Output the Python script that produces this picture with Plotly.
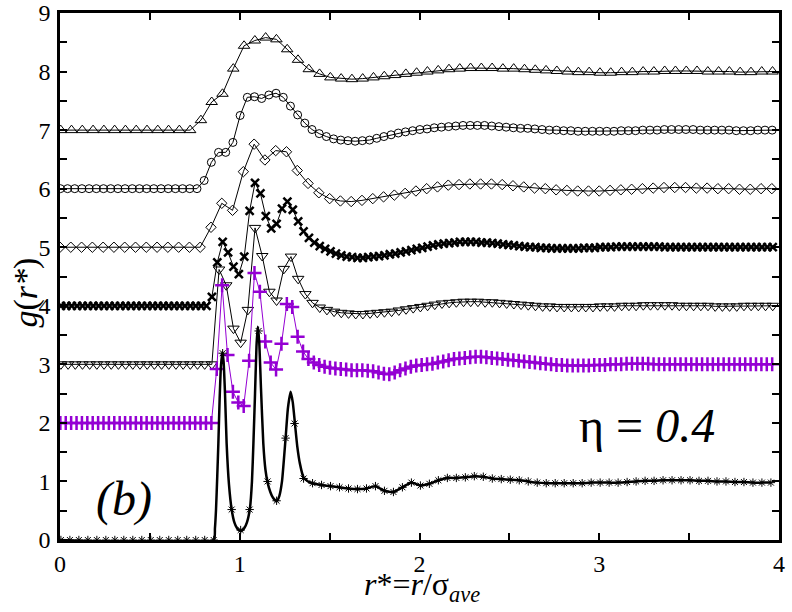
import plotly.graph_objects as go

# g(r*) curves, each shifted up by an integer offset; r grids are bin centres
# up-triangles (offset 7), bin width 0.06
r0_tri_up, dr_tri_up = 0.004, 0.06
g_tri_up = [7.0] * 13 + [
    7.17, 7.48, 7.62, 8.05, 8.44, 8.53, 8.58, 8.55, 8.38, 8.20,
    8.04, 7.96, 7.90, 7.88, 7.87, 7.88, 7.90, 7.92, 7.94,
    7.96, 7.98, 8.00, 8.02, 8.04, 8.05, 8.06, 8.06, 8.06, 8.05,
    8.05, 8.04, 8.03, 8.02, 8.01, 8.00, 7.99, 7.99, 7.98, 7.98,
    7.99, 7.99, 8.00, 8.00, 8.01, 8.01, 8.01, 8.01, 8.00, 8.00,
    8.00, 7.99, 7.99, 8.00, 8.00]

# circles (offset 6), bin width 0.04
r0_circ, dr_circ = 0.002, 0.04
g_circ = [6.0] * 20 + [
    6.14, 6.45, 6.62, 6.62, 6.79, 7.25, 7.56, 7.57, 7.54, 7.60,
    7.63, 7.56, 7.41, 7.26, 7.12, 7.01, 6.94, 6.89, 6.85, 6.83,
    6.82, 6.81, 6.82, 6.83, 6.86, 6.89, 6.92, 6.95,
    6.97, 6.99, 7.01, 7.02, 7.04, 7.05, 7.06, 7.07, 7.08, 7.08,
    7.08, 7.08, 7.07, 7.06, 7.05, 7.04, 7.03, 7.03, 7.02, 7.01,
    7.00, 7.00, 6.99, 6.99, 6.98, 6.98, 6.98, 6.98, 6.98, 6.98,
    6.99, 6.99, 6.99, 7.00, 7.00, 7.00, 7.01, 7.01, 7.01, 7.01,
    7.01, 7.00, 7.00, 7.00, 7.00, 7.00, 6.99, 6.99, 6.99, 7.00,
    7.00, 7.00]

# diamonds (offset 5), bin width 0.06
r0_diam, dr_diam = 0.0, 0.06
g_diam = [5.0] * 14 + [
    5.34, 5.75, 5.63, 6.29, 6.76, 6.49, 6.65, 6.63, 6.31, 6.09,
    5.93, 5.83, 5.79, 5.78, 5.80, 5.83, 5.86, 5.89,
    5.92, 5.96, 6.00, 6.03, 6.06, 6.07, 6.08, 6.08, 6.08, 6.07,
    6.05, 6.03, 6.01, 6.00, 5.98, 5.97, 5.96, 5.96, 5.96, 5.97,
    5.98, 5.99, 6.00, 6.01, 6.02, 6.02, 6.02, 6.01, 6.01, 6.00,
    6.00, 5.99, 5.99, 6.00, 6.00]

# crosses (offset 4), bin width 0.03
r0_x, dr_x = 0.005, 0.03
g_x = [4.0] * 28 + [
    4.15, 4.74, 5.09, 4.91, 4.67, 4.54, 4.84, 5.62, 6.10, 5.92,
    5.53, 5.32, 5.40, 5.66, 5.78, 5.64, 5.44, 5.27, 5.16, 5.08,
    5.02, 4.97, 4.93, 4.89, 4.86, 4.84, 4.83, 4.82, 4.82, 4.83,
    4.84, 4.85, 4.86, 4.88, 4.89, 4.91, 4.93, 4.95, 4.97, 4.99,
    5.01, 5.03, 5.05, 5.06, 5.07, 5.08, 5.09, 5.09, 5.09, 5.09,
    5.08, 5.08, 5.07, 5.06, 5.05, 5.04, 5.03, 5.02, 5.01, 5.00,
    5.00, 4.99, 4.99, 4.98, 4.98, 4.98, 4.98, 4.98, 4.98, 4.99,
    4.99, 4.99, 5.00, 5.00, 5.00, 5.01, 5.01, 5.01, 5.01, 5.01,
    5.01, 5.01, 5.01, 5.01, 5.00, 5.00, 5.00, 5.00, 5.00, 5.00] + [5.0] * 15

# down-triangles (offset 3), bin width 0.04
r0_tri_dn, dr_tri_dn = 0.005, 0.04
g_tri_dn = [3.0] * 22 + [
    4.62, 4.35, 3.61, 3.37, 3.93, 5.33, 4.85, 4.24, 4.09, 4.63,
    4.84, 4.46, 4.20, 4.05, 3.97, 3.93, 3.90, 3.88, 3.87, 3.86,
    3.86, 3.87, 3.88, 3.89, 3.90, 3.92, 3.94, 3.96, 3.98, 4.00,
    4.02, 4.04, 4.05, 4.06, 4.07, 4.07, 4.07, 4.06, 4.06, 4.05,
    4.04, 4.03, 4.02, 4.01, 4.00, 3.99, 3.99, 3.98, 3.98, 3.98,
    3.98, 3.98, 3.98, 3.99, 3.99, 3.99, 4.00, 4.00, 4.00, 4.01,
    4.01, 4.01, 4.01, 4.01, 4.00, 4.00, 4.00, 4.00, 4.00, 3.99,
    3.99, 3.99, 3.99, 4.00, 4.00, 4.00, 4.00, 4.00]

# plus signs, violet (offset 2), bin width 0.03
r0_plus, dr_plus = 0.002, 0.03
g_plus = [2.0] * 29 + [
    2.92, 4.35, 3.16, 2.53, 2.35, 2.29, 3.06, 4.56, 4.24, 3.39,
    3.03, 2.91, 3.35, 4.03, 3.98, 3.47, 3.22, 3.09, 3.03, 2.99,
    2.96, 2.94, 2.93, 2.92, 2.91, 2.90, 2.90, 2.90, 2.89, 2.88,
    2.86, 2.84, 2.83, 2.86, 2.90, 2.93, 2.96, 2.98, 2.99, 3.00,
    3.01, 3.03, 3.05, 3.07, 3.09, 3.10, 3.11, 3.12, 3.13, 3.13,
    3.12, 3.11, 3.10, 3.09, 3.08, 3.07, 3.06, 3.05, 3.04, 3.03,
    3.02, 3.01, 3.00, 2.99, 2.99, 2.98, 2.98, 2.98, 2.98, 2.98,
    2.99, 2.99, 2.99, 3.00, 3.00, 3.00, 3.01, 3.01, 3.01, 3.01,
    3.01, 3.00, 3.00, 3.00, 3.00, 3.00, 3.00, 3.00, 3.00, 3.00] + [3.0] * 14

# asterisks (offset 0), bin width 0.05
r0_ast, dr_ast = 0.005, 0.05
g_ast = [0.0] * 18 + [
    3.19, 0.52, 0.17, 0.52, 3.57, 1.00, 0.67, 1.74, 1.99, 1.05,
    0.97, 0.94, 0.92, 0.90, 0.88, 0.87, 0.88, 0.92, 0.84, 0.82,
    0.90, 0.98, 0.93, 0.96, 1.02, 1.06, 1.06, 1.07, 1.09, 1.08,
    1.05, 1.04, 1.03, 1.02, 1.00, 0.98, 0.97, 0.97, 0.97, 0.97,
    0.97, 0.98, 0.98, 0.98, 0.98, 0.99, 1.00, 1.01, 1.01, 1.02,
    1.02, 1.02, 1.02, 1.01, 1.01, 1.00, 1.00, 0.99, 0.99, 0.98,
    0.98, 0.98]

# finer curve through the first three peaks (offset 0)
r_fine = [0.0, 0.855, 0.862, 0.868, 0.875, 0.881, 0.888, 0.895, 0.903, 0.910,
          0.918, 0.927, 0.940, 0.955, 0.970, 0.985, 1.005, 1.025, 1.040, 1.057,
          1.068, 1.076, 1.085, 1.093, 1.100, 1.108, 1.118, 1.131, 1.143, 1.155,
          1.170, 1.185, 1.205, 1.220, 1.235, 1.255, 1.268, 1.283, 1.295, 1.307,
          1.320, 1.335, 1.355, 1.380, 1.405]
g_fine = [0.0, 0.0, 0.20, 0.52, 1.10, 1.65, 2.40, 2.95, 3.20, 3.05,
          2.50, 1.65, 0.95, 0.52, 0.30, 0.20, 0.15, 0.20, 0.30, 0.55,
          1.00, 1.65, 2.50, 3.30, 3.64, 3.40, 2.60, 1.65, 1.20, 0.98,
          0.82, 0.72, 0.66, 0.75, 1.00, 1.74, 2.25, 2.53, 2.35, 1.99,
          1.60, 1.30, 1.07, 1.00, 0.97]

x_ticks = [0, 1, 2, 3, 4]
y_ticks = [0, 1, 2, 3, 4, 5, 6, 7, 8, 9]

VIOLET = "#9400D3"
SERIF = "Liberation Serif"


def bins(r0, dr, g):
    return [round(r0 + dr * i, 4) for i in range(len(g))]


fig = go.Figure()

series = [
    (r0_tri_up, dr_tri_up, g_tri_up, "triangle-up-open", 10, 1, "black"),
    (r0_circ, dr_circ, g_circ, "circle-open", 8, 1, "black"),
    (r0_diam, dr_diam, g_diam, "diamond-open", 8, 1, "black"),
    (r0_x, dr_x, g_x, "x-thin-open", 8, 2.5, "black"),
    (r0_tri_dn, dr_tri_dn, g_tri_dn, "triangle-down-open", 10, 1, "black"),
    (r0_plus, dr_plus, g_plus, "cross-thin-open", 10, 2.5, VIOLET),
]
for r0, dr, g, sym, size, mlw, col in series:
    fig.add_trace(go.Scatter(
        x=bins(r0, dr, g), y=g, mode="lines+markers",
        line=dict(color=col, width=1),
        marker=dict(symbol=sym, size=size, color=col, line=dict(color=col, width=mlw)),
        showlegend=False, hoverinfo="skip"))

# bottom curve: fine line + asterisk points
r_ast = bins(r0_ast, dr_ast, g_ast)
tail = [(r, g) for r, g in zip(r_ast, g_ast) if r > r_fine[-1] + 0.01]
fig.add_trace(go.Scatter(
    x=r_fine + [t[0] for t in tail], y=g_fine + [t[1] for t in tail],
    mode="lines", line=dict(color="black", width=2.5, shape="spline", smoothing=0.5),
    showlegend=False, hoverinfo="skip"))
fig.add_trace(go.Scatter(
    x=r_ast, y=g_ast, mode="markers",
    marker=dict(symbol="asterisk-open", size=7, color="black", line=dict(color="black", width=1)),
    showlegend=False, hoverinfo="skip"))

axis_common = dict(
    showline=True, linecolor="black", linewidth=2.5, mirror="ticks",
    ticks="inside", ticklen=7, tickwidth=1.5, tickcolor="black",
    showgrid=False, zeroline=False, automargin=False,
    tickfont=dict(family=SERIF, size=24, color="black"),
)
minor_ticks = dict(dtick=0.5, ticks="inside", ticklen=7, tickwidth=1.5, tickcolor="black")
fig.update_xaxes(range=[0, 4], tickvals=x_ticks, minor=minor_ticks, **axis_common)
fig.update_yaxes(range=[0, 9], tickvals=y_ticks, minor=minor_ticks,
                 ticklabelstandoff=2, **axis_common)

fig.add_annotation(text="<i>g</i>(<i>r*</i>)", xref="paper", yref="paper",
                   x=-0.047, y=0.47, xanchor="center", yanchor="middle",
                   textangle=-90, showarrow=False,
                   font=dict(family=SERIF, size=34, color="black"))
fig.add_annotation(text="<i>r</i>*=<i>r</i>/σ<sub><i>ave</i></sub>", xref="paper", yref="paper",
                   x=0.503, y=-0.045, xanchor="center", yanchor="top", showarrow=False,
                   font=dict(family=SERIF, size=32, color="black"))
fig.add_annotation(text="<i>(b)</i>", xref="paper", yref="paper",
                   x=0.089, y=0.078, xanchor="center", yanchor="middle", showarrow=False,
                   font=dict(family=SERIF, size=48, color="black"))
fig.add_annotation(text="η = <i>0.4</i>", xref="paper", yref="paper",
                   x=0.817, y=0.218, xanchor="center", yanchor="middle", showarrow=False,
                   font=dict(family=SERIF, size=48, color="black"))

fig.update_layout(
    width=792, height=612,
    margin=dict(l=60, r=13, t=13, b=72),
    plot_bgcolor="white", paper_bgcolor="white",
)

fig.write_html("out.html", config={"displayModeBar": False},
               post_script="document.body.style.margin='0';")
